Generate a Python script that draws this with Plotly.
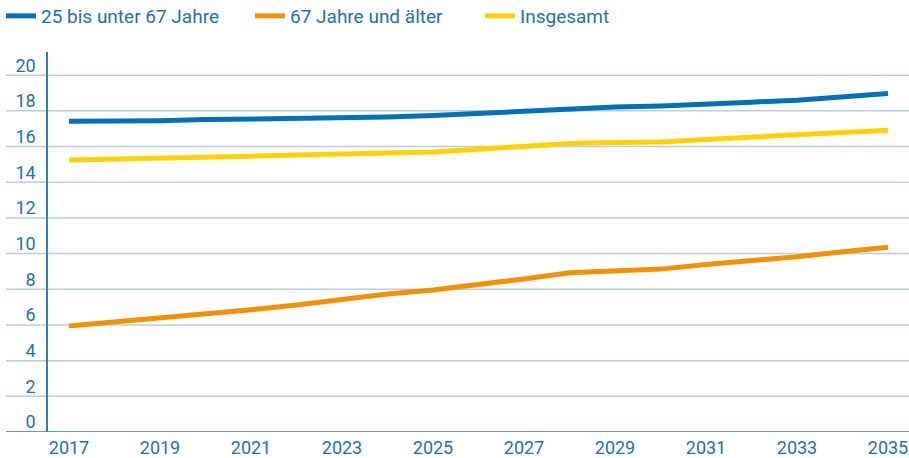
import plotly.graph_objects as go

years = list(range(2017, 2036))
age_25_67 = [17.42, 17.42, 17.45, 17.51, 17.54, 17.59, 17.62, 17.66, 17.74, 17.87,
             18.00, 18.13, 18.22, 18.28, 18.36, 18.49, 18.60, 18.78, 18.97]
age_67_plus = [5.94, 6.16, 6.38, 6.60, 6.85, 7.12, 7.44, 7.74, 7.96, 8.24,
               8.58, 8.92, 9.04, 9.13, 9.39, 9.60, 9.82, 10.10, 10.35]
total = [15.24, 15.28, 15.35, 15.42, 15.46, 15.52, 15.57, 15.63, 15.70, 15.85,
         16.02, 16.17, 16.23, 16.25, 16.40, 16.53, 16.64, 16.77, 16.92]

names = ["25 bis unter 67 Jahre", "67 Jahre und älter", "Insgesamt"]
colors = ["#0072b8", "#f39200", "#ffd200"]
y_ticks = [0, 2, 4, 6, 8, 10, 12, 14, 16, 18, 20]
x_ticks = list(range(2017, 2036, 2))

TXT = "#1a72b8"
FONT = "Roboto"

W, H = 909, 458
L, T, B, R = 48, 52, 26, 0

fig = go.Figure()
series = [age_25_67, age_67_plus, total]
legend_ids = ["legend", "legend2", "legend3"]
for vals, nm, col, lg in zip(series, names, colors, legend_ids):
    fig.add_trace(go.Scatter(x=years, y=vals, name=nm, mode="lines",
                             line=dict(color=col, width=5), legend=lg))

# gridlines extending left under the labels
gx0 = (6 - L) / (W - L - R)
for v in y_ticks:
    if v == 0:
        fig.add_shape(type="line", xref="paper", yref="y", x0=gx0, x1=1, y0=v, y1=v,
                      line=dict(color="#5b9bd5", width=2), layer="below")
    else:
        fig.add_shape(type="line", xref="paper", yref="y", x0=gx0, x1=1, y0=v, y1=v,
                      line=dict(color="#b9cce8", width=1.5), layer="below")

legend_px = [1, 250, 480]
leg_common = dict(orientation="h", xref="container", yref="container",
                  xanchor="left", yanchor="middle", y=1 - 16 / H,
                  font=dict(family=FONT, size=19, color=TXT),
                  bgcolor="rgba(0,0,0,0)", borderwidth=0)
layout_legends = {}
for lg, px in zip(legend_ids, legend_px):
    layout_legends[lg] = dict(x=px / W, **leg_common)

fig.update_layout(
    width=W, height=H,
    margin=dict(l=L, r=R, t=T, b=B, pad=0),
    paper_bgcolor="white", plot_bgcolor="white",
    font=dict(family=FONT, size=18, color=TXT),
    showlegend=True,
    xaxis=dict(range=[2017 - 21 / 45.5, 2017 + 840 / 45.5], tickmode="array",
               tickvals=x_ticks, ticktext=[str(v) for v in x_ticks],
               showgrid=False, zeroline=False, showline=False, ticks="",
               ticklabelstandoff=3,
               tickfont=dict(family=FONT, size=18, color=TXT)),
    yaxis=dict(range=[0, 21.3], tickmode="array", tickvals=y_ticks,
               ticktext=[str(v) for v in y_ticks],
               showgrid=False, zeroline=False, showline=True,
               linecolor="#2a80c6", linewidth=1.5, ticks="",
               ticklabelshift=-10, ticklabelstandoff=7,
               tickfont=dict(family=FONT, size=18, color=TXT)),
    **layout_legends,
)

fig.write_html("out.html", config={"displayModeBar": False},
               post_script="document.body.style.margin='0';document.body.style.padding='0';")
